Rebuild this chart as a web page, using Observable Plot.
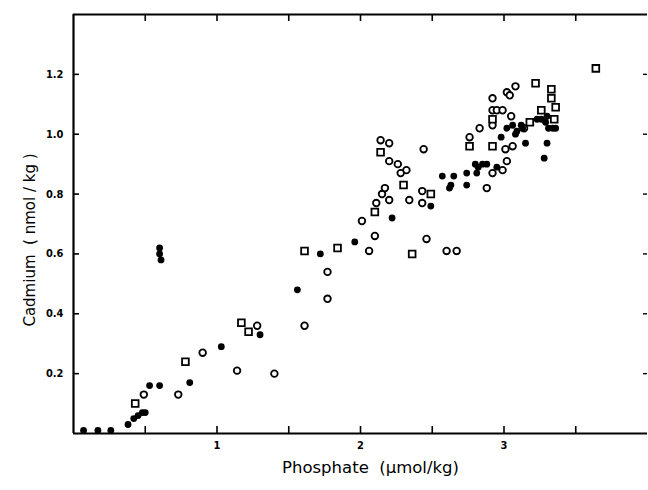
<!DOCTYPE html>
<html>
<head>
<meta charset="utf-8">
<script src="https://cdn.jsdelivr.net/npm/d3@7"></script>
<script src="https://cdn.jsdelivr.net/npm/@observablehq/plot@0.6"></script>
<style>
body { margin: 0; background: #fff; }
</style>
</head>
<body>
<div id="chart"></div>
<script>
// Phosphate (µmol/kg) and Cadmium (nmol/kg)
const openCircleX = [0.49,0.73,0.90,1.14,1.28,1.40,1.61,1.77,1.77,2.01,2.11,2.15,2.17,2.20,2.34,2.43,2.43,2.14,2.20,2.20,2.26,2.32,2.28,2.44,2.88,2.92,2.99,3.02,3.01,3.06,2.76,2.83,2.92,2.92,2.95,2.99,2.92,3.02,3.04,3.08,3.05,3.14,2.10,2.06,2.46,2.60,2.67];
const openCircleY = [0.13,0.13,0.27,0.21,0.36,0.20,0.36,0.54,0.45,0.71,0.77,0.80,0.82,0.78,0.78,0.81,0.77,0.98,0.97,0.91,0.90,0.88,0.87,0.95,0.82,0.87,0.88,0.91,0.95,0.96,0.99,1.02,1.12,1.08,1.08,1.08,1.03,1.14,1.13,1.16,1.06,1.02,0.66,0.61,0.65,0.61,0.61];

const filledX = [0.07,0.17,0.26,0.38,0.42,0.45,0.48,0.50,0.53,0.60,0.60,0.60,0.61,0.81,1.03,1.30,1.56,1.72,1.96,2.22,2.49,2.57,2.65,2.62,2.63,2.74,2.74,2.80,2.82,2.81,2.85,2.88,2.95,2.98,3.15,3.30,3.28,3.02,3.06,3.08,3.09,3.12,3.13,3.23,3.26,3.30,3.31,3.34,3.36,3.29];
const filledY = [0.01,0.01,0.01,0.03,0.05,0.06,0.07,0.07,0.16,0.16,0.62,0.60,0.58,0.17,0.29,0.33,0.48,0.60,0.64,0.72,0.76,0.86,0.86,0.82,0.83,0.83,0.87,0.90,0.89,0.87,0.90,0.90,0.89,0.99,0.97,0.97,0.92,1.02,1.03,1.00,1.01,1.03,1.02,1.05,1.05,1.06,1.02,1.02,1.02,1.04];

const squareX = [0.43,0.78,1.17,1.22,1.61,1.84,2.10,2.14,2.30,2.49,2.36,2.92,2.76,2.92,3.18,3.22,3.33,3.33,3.36,3.26,3.35,3.64];
const squareY = [0.10,0.24,0.37,0.34,0.61,0.62,0.74,0.94,0.83,0.80,0.60,0.96,0.96,1.05,1.04,1.17,1.15,1.12,1.09,1.08,1.05,1.22];

const xTicks = [0.5,1,1.5,2,2.5,3,3.5];
const xTickLabels = [1,2,3];
const yTicks = [0.2,0.4,0.6,0.8,1.0,1.2];
const yTickLabels = ["0.2","0.4","0.6","0.8","1.0","1.2"];

const xLabel = "Phosphate  (\u03bcmol/kg)";
const yLabel = "Cadmium  ( nmol / kg )";

const pts = (xs, ys) => xs.map((x, i) => ({x, y: ys[i]}));
const openC = pts(openCircleX, openCircleY);
const filled = pts(filledX, filledY);
const squares = pts(squareX, squareY);

const W = 648, H = 490, mL = 73, mR = 1, mT = 14, mB = 57;
const fw = W - mL - mR, fh = H - mT - mB;
const font = "'DejaVu Sans', sans-serif";
const tickFont = "'DejaVu Sans Condensed', 'DejaVu Sans', sans-serif";

const chart = Plot.plot({
  width: W, height: H,
  marginLeft: mL, marginRight: mR, marginTop: mT, marginBottom: mB,
  style: {fontFamily: font, background: "#fff", color: "#000"},
  x: {domain: [0, 4], axis: null},
  y: {domain: [0, 1.4], axis: null},
  marks: [
    // frame lines
    Plot.ruleX([0], {stroke: "#000", strokeWidth: 2.2}),
    Plot.ruleY([0], {stroke: "#000", strokeWidth: 2.2}),
    Plot.ruleY([1.4], {stroke: "#000", strokeWidth: 2.2}),
    // inward ticks
    Plot.tickX(xTicks, {x: d => d, insetTop: fh - 7, stroke: "#000", strokeWidth: 1.6}),
    Plot.tickX(xTicks, {x: d => d, insetBottom: fh - 7, stroke: "#000", strokeWidth: 1.6}),
    Plot.tickY(yTicks, {y: d => d, insetRight: fw - 6, stroke: "#000", strokeWidth: 1.6}),
    Plot.tickY(yTicks, {y: d => d, insetLeft: fw - 4, stroke: "#000", strokeWidth: 1.4}),
    // tick labels
    Plot.text(xTickLabels, {x: d => d, frameAnchor: "bottom", dy: 15, text: d => String(d), fontSize: 11, fontWeight: "bold", fontFamily: tickFont, fill: "#000"}),
    Plot.text(yTicks, {y: d => d, frameAnchor: "left", dx: -10, textAnchor: "end", text: (d, i) => yTickLabels[i], fontSize: 11, fontWeight: "bold", fontFamily: tickFont, fill: "#000"}),
    // axis titles
    Plot.text([yLabel], {frameAnchor: "left", dx: -43, dy: 16, rotate: -90, textAnchor: "middle", text: d => d, fontSize: 15, fill: "#000"}),
    Plot.text([xLabel], {frameAnchor: "bottom", dx: 10, dy: 39, textAnchor: "middle", text: d => d, fontSize: 16.5, fill: "#000"}),
    // data
    Plot.dot(openC, {x: "x", y: "y", r: 3.3, stroke: "#000", strokeWidth: 1.8, fill: "#fff"}),
    Plot.dot(squares, {x: "x", y: "y", symbol: "square", r: 3.8, stroke: "#000", strokeWidth: 1.8, fill: "#fff"}),
    Plot.dot(filled, {x: "x", y: "y", r: 3.4, fill: "#000", stroke: "none"})
  ]
});
document.getElementById("chart").appendChild(chart);
</script>
</body>
</html>
